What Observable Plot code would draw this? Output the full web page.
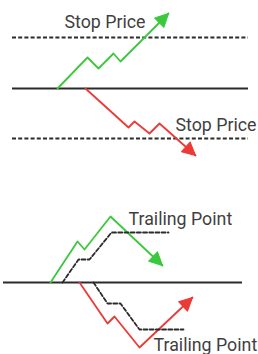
<!DOCTYPE html>
<html>
<head>
<meta charset="utf-8">
<script src="https://cdn.jsdelivr.net/npm/d3@7"></script>
<script src="https://cdn.jsdelivr.net/npm/@observablehq/plot@0.6"></script>
<style>
  html, body { margin: 0; padding: 0; background: #fff; }
  #chart svg { display: block; }
</style>
</head>
<body>
<div id="chart"></div>
<script>
// Diagram data: x = time, y = price level
// Top panel (stop orders)
const topEntryLevel = 266;
const topStopLevels = [317, 216];
const topLineSpan = [12, 248];
const stopUpPath = [[57,266],[87,297],[98,286],[113,301],[120,293],[168,341]];
const stopDownPath = [[85,266],[128,227],[134,233],[149,221],[159,231],[195,199]];

// Bottom panel (trailing orders)
const bottomEntryLevel = 72;
const bottomLineSpan = [3, 242];
const trailUpPath = [[50,72],[77,113],[84,105],[110,138],[162,89]];
const trailUpStop = [[62,72],[78,95],[89,95],[111,122],[168,122]];
const trailDownPath = [[79,72],[107,31],[114,38],[139,7],[192,57]];
const trailDownStop = [[93,72],[107,51],[120,51],[139,25],[183,25]];

// Labels
const labels = [
  {text: "Stop Price", x: 64, y: 327},
  {text: "Stop Price", x: 175, y: 224},
  {text: "Trailing Point", x: 128, y: 130},
  {text: "Trailing Point", x: 153, y: 4}
];

const GREEN = "#3cc83c";
const RED = "#ec3a36";
const INK = "#2b2b2b";

const W = 258, H = 354;

function toPts(arr) { return arr.map(([x, y]) => ({x, y})); }
function tip(arr, color) {
  const a = arr[arr.length - 2], b = arr[arr.length - 1];
  const ang = Math.atan2(b[0] - a[0], b[1] - a[1]) * 180 / Math.PI;
  return {x: b[0], y: b[1], rotate: ang, color};
}
const tips = [
  tip(stopUpPath, GREEN), tip(stopDownPath, RED),
  tip(trailUpPath, GREEN), tip(trailDownPath, RED)
];
const arrowHead = {
  draw(ctx, l) {
    ctx.moveTo(0, -l);
    ctx.lineTo(-l * 0.5, 0);
    ctx.lineTo(l * 0.5, 0);
    ctx.closePath();
  }
};

const lineOpts = {x: "x", y: "y", strokeWidth: 1.8, curve: "linear"};
const dash = "4,2.2";

const chart = Plot.plot({
  width: W,
  height: H,
  margin: 0,
  x: {domain: [0, W], range: [0, W], axis: null},
  y: {domain: [0, H], range: [H, 0], axis: null},
  marks: [
    // top panel
    Plot.ruleY(topStopLevels, {x1: topLineSpan[0], x2: topLineSpan[1], stroke: INK, strokeWidth: 1.9, strokeDasharray: dash}),
    Plot.ruleY([topEntryLevel], {x1: topLineSpan[0], x2: topLineSpan[1], stroke: INK, strokeWidth: 2}),
    Plot.line(toPts(stopUpPath), {...lineOpts, stroke: GREEN}),
    Plot.line(toPts(stopDownPath), {...lineOpts, stroke: RED}),
    // bottom panel
    Plot.ruleY([bottomEntryLevel], {x1: bottomLineSpan[0], x2: bottomLineSpan[1], stroke: INK, strokeWidth: 2}),
    Plot.line(toPts(trailUpPath), {...lineOpts, stroke: GREEN}),
    Plot.line(toPts(trailDownPath), {...lineOpts, stroke: RED}),
    Plot.line(toPts(trailUpStop), {...lineOpts, stroke: INK, strokeWidth: 1.8, strokeDasharray: dash}),
    Plot.line(toPts(trailDownStop), {...lineOpts, stroke: INK, strokeWidth: 1.8, strokeDasharray: dash}),
    // arrow heads
    Plot.vector(tips, {x: "x", y: "y", rotate: "rotate", length: 13, anchor: "end", shape: arrowHead, fill: "color", stroke: "color", strokeWidth: 1}),
    // labels
    Plot.text(labels, {x: "x", y: "y", text: "text", textAnchor: "start", lineAnchor: "bottom", fontSize: 17.8, fill: "#3f3f3f", fontFamily: "Roboto, 'Liberation Sans', sans-serif"})
  ]
});
document.getElementById("chart").appendChild(chart);
</script>
</body>
</html>
